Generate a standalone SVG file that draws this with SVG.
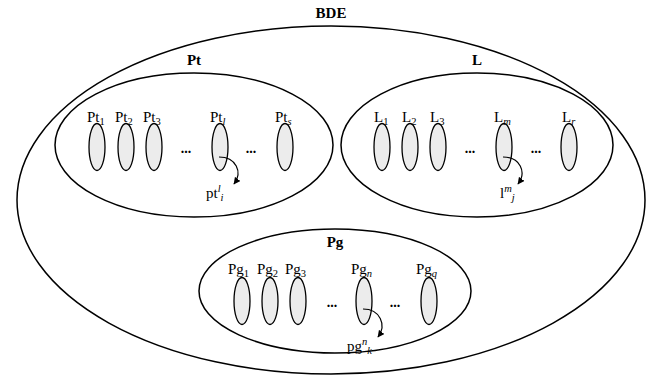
<svg xmlns="http://www.w3.org/2000/svg" width="662" height="377" viewBox="0 0 662 377">
<style>
.big{fill:none;stroke:#000;stroke-width:1.5}
.el{fill:#ececec;stroke:#000;stroke-width:1.3}
.t{font-family:"Liberation Serif",serif;font-size:15px;fill:#000}
.s{font-size:10.5px}
.i{font-size:10.5px;font-style:italic}
.b{font-family:"Liberation Serif",serif;font-size:15px;font-weight:bold;fill:#000;text-anchor:middle}
.dots{font-family:"Liberation Serif",serif;font-size:14px;font-weight:bold;fill:#000;text-anchor:middle}
.c{fill:none;stroke:#000;stroke-width:1.2}
</style>
<defs>
<marker id="ah" viewBox="0 0 10 10" refX="9" refY="5" markerWidth="7" markerHeight="7" orient="auto" markerUnits="userSpaceOnUse">
<path d="M0,0 L10,5 L0,10 z" fill="#000"/>
</marker>
</defs>
<g id="BDE">
<ellipse class="big" cx="331" cy="200" rx="314" ry="174"/>
<text class="b" x="331" y="18">BDE</text>
</g>
<g id="Pt">
<ellipse class="big" cx="194" cy="145" rx="139" ry="72"/>
<text class="b" x="194" y="65">Pt</text>
<ellipse class="el" cx="97" cy="147" rx="8" ry="23.5"/>
<ellipse class="el" cx="126" cy="147" rx="8" ry="23.5"/>
<ellipse class="el" cx="154" cy="147" rx="8" ry="23.5"/>
<ellipse class="el" cx="220" cy="147" rx="8" ry="23.5"/>
<ellipse class="el" cx="285" cy="147" rx="8" ry="23.5"/>
<text class="t" x="87" y="122">Pt<tspan class="s" dy="3">1</tspan></text>
<text class="t" x="115" y="122">Pt<tspan class="s" dy="3">2</tspan></text>
<text class="t" x="143" y="122">Pt<tspan class="s" dy="3">3</tspan></text>
<text class="t" x="210" y="122">Pt<tspan class="i" dy="3">l</tspan></text>
<text class="t" x="275" y="122">Pt<tspan class="i" dy="3">s</tspan></text>
<text class="dots" x="186" y="153">...</text>
<text class="dots" x="251" y="153">...</text>
<text class="t" x="206" y="198">pt<tspan class="i" dy="-6">l</tspan><tspan class="i" dy="9">i</tspan></text>
</g>
<g id="L">
<ellipse class="big" cx="477" cy="145" rx="136" ry="72"/>
<text class="b" x="477" y="65">L</text>
<ellipse class="el" cx="382" cy="147" rx="8" ry="23.5"/>
<ellipse class="el" cx="410" cy="147" rx="8" ry="23.5"/>
<ellipse class="el" cx="438" cy="147" rx="8" ry="23.5"/>
<ellipse class="el" cx="504" cy="147" rx="8" ry="23.5"/>
<ellipse class="el" cx="569" cy="147" rx="8" ry="23.5"/>
<text class="t" x="374" y="122">L<tspan class="s" dy="3">1</tspan></text>
<text class="t" x="402" y="122">L<tspan class="s" dy="3">2</tspan></text>
<text class="t" x="430" y="122">L<tspan class="s" dy="3">3</tspan></text>
<text class="t" x="494" y="122">L<tspan class="i" dy="3">m</tspan></text>
<text class="t" x="562" y="122">L<tspan class="i" dy="3">r</tspan></text>
<text class="dots" x="470" y="153">...</text>
<text class="dots" x="536" y="153">...</text>
<text class="t" x="500" y="198">l<tspan class="i" dy="-6">m</tspan><tspan class="i" dy="9">j</tspan></text>
</g>
<g id="Pg">
<ellipse class="big" cx="335" cy="291" rx="136" ry="62"/>
<text class="b" x="335" y="247">Pg</text>
<ellipse class="el" cx="242" cy="301" rx="8" ry="23.5"/>
<ellipse class="el" cx="270" cy="301" rx="8" ry="23.5"/>
<ellipse class="el" cx="298" cy="301" rx="8" ry="23.5"/>
<ellipse class="el" cx="364" cy="301" rx="8" ry="23.5"/>
<ellipse class="el" cx="429" cy="301" rx="8" ry="23.5"/>
<text class="t" x="228" y="274">Pg<tspan class="s" dy="3">1</tspan></text>
<text class="t" x="257" y="274">Pg<tspan class="s" dy="3">2</tspan></text>
<text class="t" x="285" y="274">Pg<tspan class="s" dy="3">3</tspan></text>
<text class="t" x="351" y="274">Pg<tspan class="i" dy="3">n</tspan></text>
<text class="t" x="416" y="274">Pg<tspan class="i" dy="3">q</tspan></text>
<text class="dots" x="332" y="307">...</text>
<text class="dots" x="395" y="307">...</text>
<text class="t" x="347" y="351">pg<tspan class="i" dy="-6">n</tspan><tspan class="i" dy="9">k</tspan></text>
</g>
<g id="connectors">
<path class="c" d="M219,157 C236,157 243,172 234,184" marker-end="url(#ah)"/>
<path class="c" d="M503,157 C520,157 527,172 518,184" marker-end="url(#ah)"/>
<path class="c" d="M363,309 C380,309 387,325 378,337" marker-end="url(#ah)"/>
</g>
</svg>
